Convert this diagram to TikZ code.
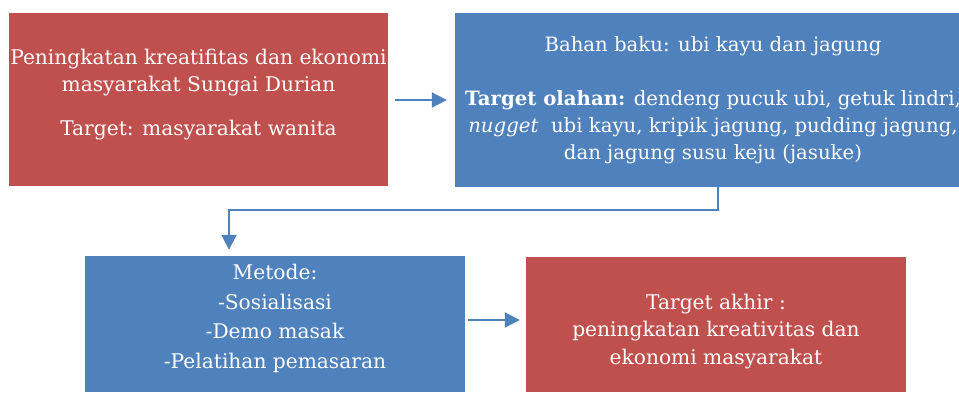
\documentclass[tikz,border=0pt]{standalone}
\usepackage{fontspec}
\setmainfont{DejaVu Serif}
\usepackage{tikz}
\usetikzlibrary{arrows.meta,positioning,calc}
\definecolor{boxred}{HTML}{C0504D}
\definecolor{boxblue}{HTML}{4F81BD}
% struts to move a box's text up or down
\newcommand\padbelow[1]{\rule[-#1]{0pt}{#1}}
\newcommand\padabove[1]{\rule{0pt}{#1}}

\begin{document}
\begin{tikzpicture}[x=1pt,y=-1pt,
  box/.style={text=white,align=center,inner sep=0pt,font=\fontsize{20.2}{27}\selectfont},
  redbox/.style={box,fill=boxred},
  bluebox/.style={box,fill=boxblue},
  flow/.style={boxblue,line width=2pt,-{Triangle[length=15pt,width=15pt]}}]
\clip (0,0) rectangle (959,392);

% Top row
\node[redbox,minimum width=379pt,minimum height=173pt] (tujuan) at (198.5,99.5)
  {Peningkatan kreatifitas dan ekonomi\\ masyarakat Sungai Durian\\[17pt] Target: masyarakat wanita\padbelow{15pt}};
\node[bluebox,minimum width=516pt,minimum height=174pt,font=\fontsize{19.7}{27}\selectfont] (bahan) at (713,100)
  {Bahan baku: ubi kayu dan jagung\\[27pt]
   \textbf{Target olahan:} dendeng pucuk ubi, getuk lindri,\\
   \textit{nugget}~ ubi kayu, kripik jagung, pudding jagung,\\
   dan jagung susu keju (jasuke)};

% Bottom row
\node[bluebox,minimum width=380pt,minimum height=136pt,font=\fontsize{20.2}{29.5}\selectfont] (metode) at (275,324)
  {Metode:\\ -Sosialisasi\\ -Demo masak\\ -Pelatihan pemasaran\padbelow{15pt}};
\node[redbox,minimum width=380pt,minimum height=135pt,font=\fontsize{20.2}{27.5}\selectfont] (akhir) at (716,324.5)
  {\padabove{29pt}Target akhir :\\ peningkatan kreativitas dan\\ ekonomi masyarakat};

% Arrows
\draw[flow,shorten <=7pt,shorten >=8pt] (tujuan.east |- 0,100) -- (bahan.west |- 0,100);
\draw[flow,shorten >=6pt] (bahan.south -| 718,0) |- (229,210) -- (metode.north -| 229,0);
\draw[flow,shorten <=3pt,shorten >=6pt] ([yshift=4pt]metode.east) -- ([yshift=4pt]metode.east -| akhir.west);
\end{tikzpicture}
\end{document}
